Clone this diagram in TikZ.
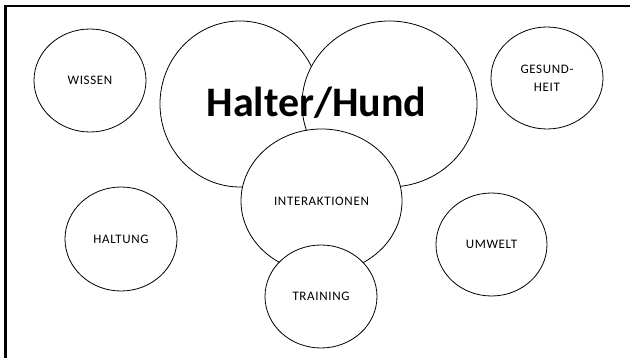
\documentclass[tikz,border=0pt]{standalone}
\usepackage{fontspec}
\setmainfont{Carlito}
\usetikzlibrary{shapes.geometric}

\tikzset{
  kreis/.style={ellipse,draw,fill=white,line width=0.8pt,inner sep=0pt,
    font=\fontsize{13}{18}\selectfont\addfontfeatures{LetterSpace=5}},
}

\begin{document}
\begin{tikzpicture}[x=1pt,y=-1pt]
    \useasboundingbox (0,0) rectangle (630,358);

    % 边框（上、左）
    \draw[line width=2.2pt] (630,6) -- (5.5,6) -- (5.5,358);

    % 四角的小圆
    \node[kreis,minimum width=112pt,minimum height=103pt] (wissen) at (90,80.5) {WISSEN};
    \node[kreis,minimum width=112pt,minimum height=102pt,align=center] (gesundheit) at (547,78) {GESUND-\\HEIT};
    \node[kreis,minimum width=112pt,minimum height=104pt] (haltung) at (121,239) {HALTUNG};
    \node[kreis,minimum width=111pt,minimum height=103pt] (umwelt) at (491.5,244.5) {UMWELT};

    % 中间的两个大圆
    \node[kreis,minimum width=160pt,minimum height=166pt] (halter) at (240,104) {};
    \node[kreis,minimum width=175pt,minimum height=166pt] (hund) at (389.5,104) {};

    % 互动与训练
    \node[kreis,minimum width=161pt,minimum height=144pt] (interaktionen) at (321.5,201) {INTERAKTIONEN};
    \node[kreis,minimum width=112pt,minimum height=103pt] (training) at (321,296.5) {TRAINING};

    % 标题
    \node[anchor=base,inner sep=0pt,font=\bfseries\fontsize{42}{50}\selectfont] (titel) at (316.5,117) {Halter/Hund};
\end{tikzpicture}
\end{document}
